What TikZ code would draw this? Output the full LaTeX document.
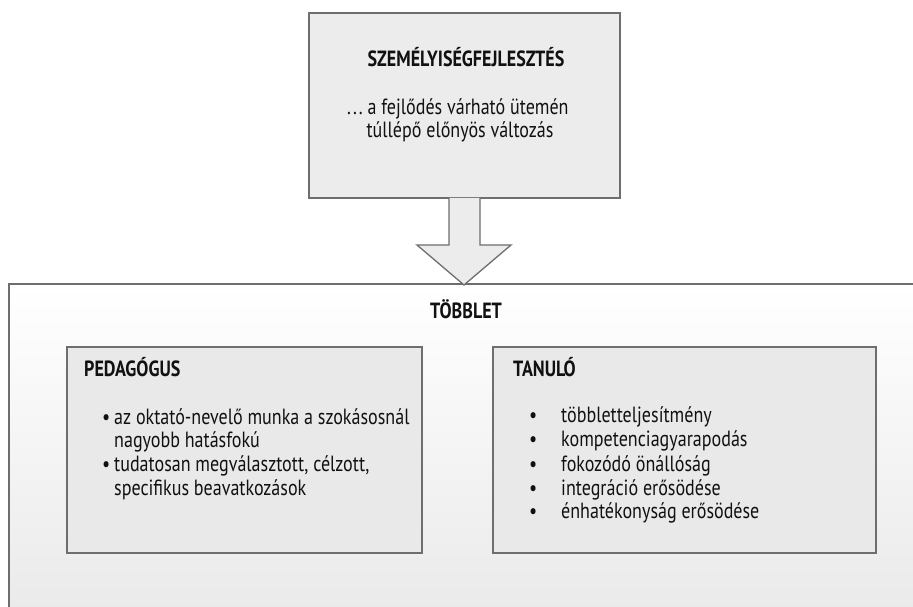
\documentclass[tikz,border=0pt]{standalone}
\usepackage{fontspec}
\setmainfont{PT Sans}[FakeStretch=0.82]
\definecolor{linegray}{HTML}{6E6E6E}
\definecolor{boxfill}{HTML}{E9E9E9}
\definecolor{topfill}{HTML}{ECECEC}
\definecolor{ink}{HTML}{111111}
\begin{document}
\begin{tikzpicture}[x=1pt,y=1pt,
  frame/.style={draw=linegray, line width=1.4pt},
  panel/.style={frame, fill=boxfill},
  txt/.style={inner sep=0pt, text=ink, font=\fontsize{22}{24}\selectfont},
  head/.style={txt, font=\fontsize{22}{24}\selectfont\bfseries},
  item/.style={txt, anchor=base west},
  dot/.style={txt, anchor=base west}]
\useasboundingbox (0,0) rectangle (913,607);
\fill[white] (0,0) rectangle (913,607);

% outer frame, running past the page edges
\draw[frame, top color=white, bottom color=boxfill, shading angle=0]
  (9,323) rectangle (930,-20);

% top box
\draw[frame, fill=topfill] (309,594) rectangle (620,409);
\node[head, anchor=base] (title) at (466,540) {SZEMÉLYISÉGFEJLESZTÉS};
\node[txt, anchor=base west] (def1) at (347,492) {.\kern2pt.\kern2pt.\ a fejlődés várható ütemén};
\node[txt, anchor=base] (def2) at (460,469) {túllépő előnyös változás};

% block arrow between the two levels
\draw[frame, line width=1.3pt, fill=topfill, line join=miter]
  (449,409) -- (449,362) -- (417,362) -- (464,322) -- (511,362) -- (480,362) -- (480,409);

\node[head, anchor=base] (plus) at (466,288) {TÖBBLET};

% teacher panel
\draw[panel] (67,260) rectangle (422,54);
\node[head, anchor=base west] (ped) at (84,230) {PEDAGÓGUS};
\node[dot] (pb1) at (102,182) {\textbullet};
\node[item] (p1) at (114,182) {az oktató-nevelő munka a szokásosnál};
\node[item] (p1b) at (114,159) {nagyobb hatásfokú};
\node[dot] (pb2) at (102,135) {\textbullet};
\node[item] (p2) at (114,135) {tudatosan megválasztott, célzott,};
\node[item] (p2b) at (114,111) {specifikus beavatkozások};

% student panel
\draw[panel] (493,260) rectangle (876,54);
\node[head, anchor=base west] (tan) at (513,230) {TANULÓ};
\foreach \y/\t [count=\i] in {184/többletteljesítmény, 160/kompetenciagyarapodás,
    135/fokozódó önállóság, 111/integráció erősödése, 88/énhatékonyság erősödése}{
  \node[dot] (tb\i) at (529,\y) {\textbullet};
  \node[item] (t\i) at (561,\y) {\t};
}
\end{tikzpicture}
\end{document}
